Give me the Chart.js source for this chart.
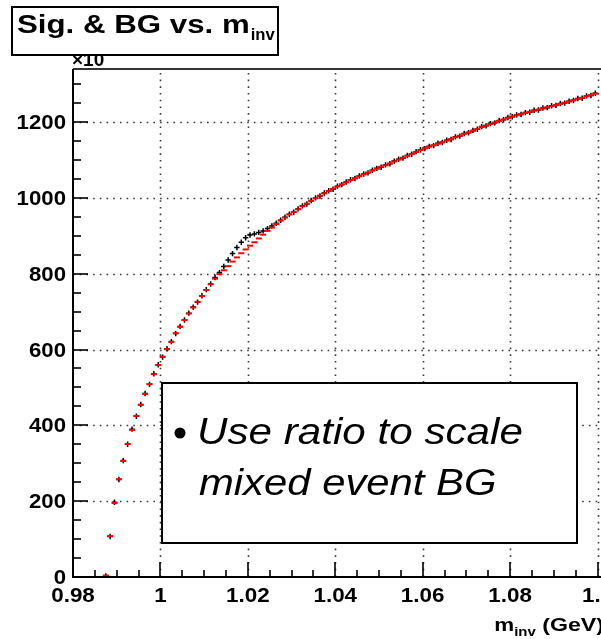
<!DOCTYPE html>
<html>
<head>
<meta charset="utf-8">
<script src="https://cdn.jsdelivr.net/npm/chart.js@4/dist/chart.umd.min.js"></script>
<style>
  html, body { margin: 0; padding: 0; background: #fff; }
  canvas { display: block; }
</style>
</head>
<body>
<canvas id="c" width="601" height="639"></canvas>
<script>
// Histogram binning of the invariant mass (GeV)
const massLow = 0.98;
const binWidth = 0.001;

// Same-event pairs (signal + background), counts in units of x10, one value per bin
const sigBg = [
  0, 0, 0, 0, 0, 0, 0, 3, 107, 197,
  257, 307, 350, 390, 424, 455, 484, 508, 536, 560,
  580, 602, 621, 642, 661, 678, 696, 712, 725, 742,
  758, 773, 790, 803, 819, 836, 853, 869, 883, 895,
  902, 905, 909, 913, 919, 926, 933, 941, 949, 957,
  962, 971, 979, 984, 993, 1000, 1005, 1013, 1019, 1023,
  1031, 1035, 1042, 1048, 1051, 1058, 1063, 1066, 1073, 1078,
  1081, 1087, 1090, 1097, 1102, 1105, 1112, 1115, 1122, 1127,
  1130, 1136, 1138, 1144, 1146, 1152, 1154, 1161, 1163, 1170,
  1172, 1178, 1181, 1188, 1190, 1196, 1198, 1204, 1206, 1212,
  1214, 1219, 1220, 1225, 1226, 1231, 1232, 1237, 1238, 1243,
  1244, 1249, 1250, 1255, 1257, 1262, 1263, 1269, 1270, 1276
];

// Mixed-event background scaled by the ratio, units of x10
const mixedBg = [
  0, 0, 0, 0, 0, 0, 0, 4, 108, 195,
  258, 306, 351, 388, 425, 454, 483, 509, 535, 559,
  581, 601, 620, 643, 660, 678, 695, 711, 726, 741,
  757, 772, 787, 799, 809, 820, 832, 843, 854, 864,
  874, 883, 893, 903, 913, 922, 931, 940, 948, 956,
  963, 970, 978, 985, 992, 999, 1006, 1012, 1018, 1024,
  1030, 1036, 1041, 1047, 1052, 1057, 1062, 1067, 1072, 1077,
  1082, 1086, 1091, 1096, 1101, 1106, 1111, 1116, 1121, 1126,
  1131, 1135, 1139, 1143, 1147, 1151, 1155, 1160, 1164, 1169,
  1173, 1177, 1182, 1187, 1191, 1195, 1199, 1203, 1207, 1211,
  1215, 1218, 1221, 1224, 1227, 1230, 1233, 1236, 1239, 1242,
  1245, 1248, 1251, 1254, 1258, 1261, 1264, 1268, 1271, 1275
];

// Axis ticks and labels
const xTicks = [0.98, 1.0, 1.02, 1.04, 1.06, 1.08, 1.1];
const xTickLabels = ['0.98', '1', '1.02', '1.04', '1.06', '1.08', '1.1'];
const yTicks = [0, 200, 400, 600, 800, 1000, 1200];
const yTickLabels = ['0', '200', '400', '600', '800', '1000', '1200'];
const xMinorStep = 0.005;
const yMinorStep = 50;

const titleMain = 'Sig. & BG vs. m';
const titleSub = 'inv';
const xTitleMain = 'm';
const xTitleSub = 'inv';
const xTitleTail = ' (GeV)';
const yExponent = '\u00d710';
const noteLines = ['Use ratio to scale', 'mixed event BG'];

function toPoints(values) {
  return values.map((v, i) => ({ x: massLow + (i + 0.5) * binWidth, y: v > 0 ? v : null }));
}

const FONT = '"Liberation Sans", Arial, Helvetica, sans-serif';

function stretchText(ctx, text, x, y, sx, align) {
  ctx.save();
  ctx.translate(x, y);
  ctx.scale(sx, 1);
  ctx.textAlign = align || 'left';
  ctx.fillText(text, 0, 0);
  ctx.restore();
}

function textW(ctx, text, sx) {
  return ctx.measureText(text).width * sx;
}

// ROOT-style frame: dotted grid, inward ticks, bold labels, title box and note box
const rootFrame = {
  id: 'rootFrame',
  beforeDatasetsDraw(chart) {
    const ctx = chart.ctx;
    const xs = chart.scales.x, ys = chart.scales.y;
    const a = chart.chartArea;
    ctx.save();
    ctx.strokeStyle = '#3a3a3a';
    ctx.lineWidth = 1.6;
    ctx.setLineDash([1.6, 5.1]);
    xTicks.forEach(v => {
      const px = Math.round(xs.getPixelForValue(v)) + 0.5;
      if (px <= a.left + 2) return;
      ctx.beginPath(); ctx.moveTo(px, a.bottom); ctx.lineTo(px, a.top); ctx.stroke();
    });
    yTicks.forEach(v => {
      const py = Math.round(ys.getPixelForValue(v)) + 0.5;
      if (py >= a.bottom - 2) return;
      ctx.beginPath(); ctx.moveTo(a.left, py); ctx.lineTo(a.right, py); ctx.stroke();
    });
    ctx.restore();
  },
  afterDatasetsDraw(chart) {
    const ctx = chart.ctx;
    const xs = chart.scales.x, ys = chart.scales.y;
    const a = chart.chartArea;
    ctx.save();
    ctx.setLineDash([]);

    // top frame line
    ctx.strokeStyle = '#333';
    ctx.lineWidth = 2;
    ctx.beginPath(); ctx.moveTo(a.left, a.top); ctx.lineTo(a.right + 2, a.top); ctx.stroke();

    // axes
    ctx.strokeStyle = '#000';
    ctx.lineWidth = 2;
    ctx.beginPath();
    ctx.moveTo(a.left, a.top); ctx.lineTo(a.left, a.bottom); ctx.lineTo(a.right + 2, a.bottom);
    ctx.stroke();

    // x ticks (pointing up into the frame)
    ctx.lineWidth = 1.6;
    const xMin = xs.min, xMax = xs.max;
    for (let k = 0; ; k++) {
      const v = xMin + k * xMinorStep;
      if (v > xMax + 1e-9) break;
      const major = xTicks.some(t => Math.abs(t - v) < 1e-6);
      const px = Math.round(xs.getPixelForValue(v));
      const len = major ? 15 : 7;
      ctx.beginPath(); ctx.moveTo(px, a.bottom); ctx.lineTo(px, a.bottom - len); ctx.stroke();
    }
    // y ticks (pointing right into the frame)
    for (let k = 0; ; k++) {
      const v = k * yMinorStep;
      if (v > ys.max) break;
      const major = yTicks.indexOf(v) >= 0;
      const py = Math.round(ys.getPixelForValue(v));
      const len = major ? 15 : 8;
      ctx.beginPath(); ctx.moveTo(a.left, py); ctx.lineTo(a.left + len, py); ctx.stroke();
    }

    // tick labels
    ctx.fillStyle = '#000';
    ctx.font = 'bold 20px ' + FONT;
    ctx.textBaseline = 'alphabetic';
    yTicks.forEach((v, i) => {
      const py = ys.getPixelForValue(v);
      stretchText(ctx, yTickLabels[i], a.left - 7, py + 7, 1.11, 'right');
    });
    xTicks.forEach((v, i) => {
      const px = xs.getPixelForValue(v);
      stretchText(ctx, xTickLabels[i], px, a.bottom + 25, 1.12, 'center');
    });

    // axis title
    ctx.font = 'bold 19px ' + FONT;
    const tailW = textW(ctx, xTitleTail, 1.22);
    ctx.font = 'bold 13px ' + FONT;
    const subW = textW(ctx, xTitleSub, 1.15);
    ctx.font = 'bold 19px ' + FONT;
    const mW = textW(ctx, xTitleMain, 1.18);
    const xEnd = 604;
    const xBase = 631;
    stretchText(ctx, xTitleTail, xEnd - tailW, xBase, 1.22, 'left');
    ctx.font = 'bold 13px ' + FONT;
    stretchText(ctx, xTitleSub, xEnd - tailW - subW, xBase + 5, 1.15, 'left');
    ctx.font = 'bold 19px ' + FONT;
    stretchText(ctx, xTitleMain, xEnd - tailW - subW - mW, xBase, 1.18, 'left');

    // exponent label above the y axis (its top sits under the title box)
    ctx.font = 'bold 19px ' + FONT;
    stretchText(ctx, yExponent, a.left - 1, a.top - 3, 1.0, 'left');

    // title box
    ctx.fillStyle = '#fff';
    ctx.fillRect(12, 7, 266, 48);
    ctx.strokeStyle = '#000';
    ctx.lineWidth = 2;
    ctx.strokeRect(12, 7, 266, 48);
    ctx.fillStyle = '#000';
    ctx.font = 'bold 25px ' + FONT;
    const tW = textW(ctx, titleMain, 1.25);
    stretchText(ctx, titleMain, 17, 33, 1.25, 'left');
    ctx.font = 'bold 16px ' + FONT;
    stretchText(ctx, titleSub, 17 + tW + 1, 40, 1.04, 'left');

    // note box
    ctx.fillStyle = '#fff';
    ctx.fillRect(162, 383, 415, 160);
    ctx.lineWidth = 2;
    ctx.strokeStyle = '#000';
    ctx.strokeRect(162, 383, 415, 160);
    ctx.fillStyle = '#000';
    ctx.beginPath(); ctx.arc(180, 433, 5.5, 0, Math.PI * 2); ctx.fill();
    ctx.font = 'italic 37px ' + FONT;
    stretchText(ctx, noteLines[0], 197, 444, 1.14, 'left');
    stretchText(ctx, noteLines[1], 199, 495, 1.13, 'left');

    ctx.restore();
  }
};

new Chart(document.getElementById('c'), {
  type: 'scatter',
  data: {
    datasets: [
      {
        label: 'mixed event BG (scaled)',
        data: toPoints(mixedBg),
        pointStyle: 'line',
        pointRadius: 3,
        borderColor: '#ff0000',
        backgroundColor: '#ff0000',
        pointBorderWidth: 2,
        order: 0
      },
      {
        label: 'same event',
        data: toPoints(sigBg),
        pointStyle: 'cross',
        pointRadius: 2.7,
        borderColor: '#000000',
        backgroundColor: '#000000',
        pointBorderWidth: 1.5,
        order: 1
      }
    ]
  },
  options: {
    responsive: false,
    devicePixelRatio: 1,
    animation: false,
    events: [],
    layout: { autoPadding: false, padding: { left: 73, top: 69, right: 0, bottom: 62 } },
    plugins: { legend: { display: false }, tooltip: { enabled: false }, title: { display: false } },
    scales: {
      x: { type: 'linear', min: 0.98, max: 1.1008, display: false },
      y: { type: 'linear', min: 0, max: 1340, display: false }
    }
  },
  plugins: [rootFrame]
});
</script>
</body>
</html>
